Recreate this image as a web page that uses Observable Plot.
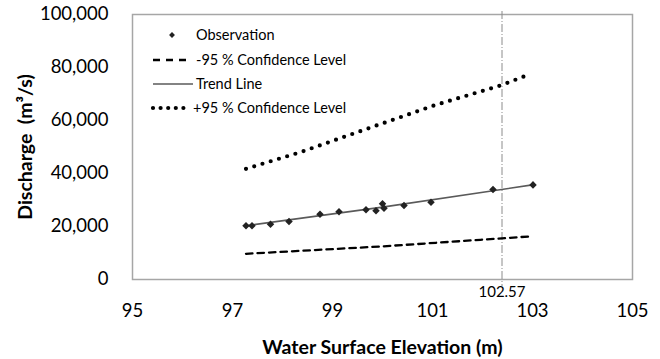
<!DOCTYPE html>
<html><head><meta charset="utf-8">
<script src="https://cdn.jsdelivr.net/npm/d3@7"></script>
<script src="https://cdn.jsdelivr.net/npm/@observablehq/plot@0.6"></script>
<style>
body{margin:0;background:#fff;}
#chart{position:relative;width:660px;height:359px;}
</style>
</head><body><div id="chart"></div>
<script>
// Observations: water surface elevation (m) vs discharge (m3/s)
const obsElevation = [97.27, 97.39, 97.76, 98.13, 98.75, 99.13, 99.67, 99.87, 100.00, 100.03, 100.43, 100.97, 102.21, 103.01];
const obsDischarge = [20270, 20270, 20870, 21890, 24640, 25550, 26300, 25930, 28570, 26910, 27930, 29170, 33970, 35700];

const trendElevation = [97.27, 100.00, 103.03];
const trendDischarge = [20300, 27300, 35800];

const lowerElevation = [97.27, 99.96, 101.96, 102.93];
const lowerDischarge = [9700, 12450, 14980, 16230];

const upperElevation = [97.27, 98.36, 99.69, 101.03, 102.36, 102.97];
const upperDischarge = [41780, 48040, 56870, 65670, 73220, 77630];

const xTicks = [95, 97, 99, 101, 103, 105];
const yTicks = [0, 20000, 40000, 60000, 80000, 100000];
const refLineX = [102.39];
const refLineLabel = ["102.57"];

const legendLabels = ["Observation", "-95 % Confidence Level", "Trend Line", "+95 % Confidence Level"];
const xTitle = "Water Surface Elevation (m)";
const yTitle = "Discharge  (m³/s)";

const obs = obsElevation.map((x, i) => ({x, y: obsDischarge[i]}));
const trend = trendElevation.map((x, i) => ({x, y: trendDischarge[i]}));
const lower = lowerElevation.map((x, i) => ({x, y: lowerDischarge[i]}));
const upper = upperElevation.map((x, i) => ({x, y: upperDischarge[i]}));

const FONT = 'Lato, "Open Sans", sans-serif';
const fmt = d3.format(",");

const plot = Plot.plot({
  width: 660, height: 359,
  marginLeft: 132, marginRight: 28, marginTop: 14, marginBottom: 80,
  style: {fontFamily: FONT, fontSize: "18.5px", color: "#000", background: "#fff"},
  x: {domain: [95, 105], ticks: xTicks, tickSize: 0, tickPadding: 24, label: null},
  y: {domain: [0, 100000], ticks: yTicks, tickSize: 0, tickPadding: 24, label: null, tickFormat: fmt},
  marks: [
    Plot.frame({stroke: "#a6a6a6", strokeWidth: 1.5}),
    Plot.ruleX(refLineX, {stroke: "#8c8c8c", strokeWidth: 1, strokeDasharray: "8 2 1 2", insetTop: -3, insetBottom: -7}),
    Plot.text(refLineX, {x: d => d, frameAnchor: "bottom", lineAnchor: "middle", dy: 13, text: (d, i) => refLineLabel[i], fontSize: 15, fill: "#000"}),
    Plot.line(upper, {x: "x", y: "y", stroke: "#000", strokeWidth: 4.2, strokeDasharray: "0 8.6", strokeLinecap: "round"}),
    Plot.line(lower, {x: "x", y: "y", stroke: "#000", strokeWidth: 2.3, strokeDasharray: "6.5 5"}),
    Plot.line(trend, {x: "x", y: "y", stroke: "#5a5a5a", strokeWidth: 1.6}),
    Plot.dot(obs, {x: "x", y: "y", symbol: "diamond2", r: 3.4, fill: "#222", stroke: "none"}),
    Plot.text([xTitle], {frameAnchor: "bottom", lineAnchor: "middle", dy: 68, fontWeight: "bold", fontSize: 19.5}),
    Plot.text([yTitle], {frameAnchor: "left", textAnchor: "middle", lineAnchor: "middle", dx: -107, rotate: -90, fontWeight: "bold", fontSize: 19.5})
  ]
});
document.getElementById("chart").appendChild(plot);

// Legend drawn inside the plot area (top-left)
const svg = d3.select(plot);
const lg = svg.append("g").attr("font-family", FONT).attr("font-size", 14.5).attr("text-anchor", "start");
const rowY = [35, 60, 84, 108];
const sx0 = 153, sx1 = 190, tx = 196;
lg.append("path").attr("d", d3.symbol(d3.symbolDiamond2, 22)()).attr("transform", `translate(172,${rowY[0]})`).attr("fill", "#222");
lg.append("line").attr("x1", sx0).attr("x2", sx1).attr("y1", rowY[1]).attr("y2", rowY[1]).attr("stroke", "#000").attr("stroke-width", 2.3).attr("stroke-dasharray", "7 6");
lg.append("line").attr("x1", sx0).attr("x2", sx1 + 3).attr("y1", rowY[2]).attr("y2", rowY[2]).attr("stroke", "#5a5a5a").attr("stroke-width", 1.6);
lg.append("line").attr("x1", sx0).attr("x2", sx1).attr("y1", rowY[3]).attr("y2", rowY[3]).attr("stroke", "#000").attr("stroke-width", 4.2).attr("stroke-dasharray", "0 7.6").attr("stroke-linecap", "round");
legendLabels.forEach((t, i) => {
  lg.append("text").attr("x", tx - (i === 3 ? 3 : 0)).attr("y", rowY[i]).attr("dy", "0.35em").attr("fill", "#000").text(t);
});
</script>
</body></html>
